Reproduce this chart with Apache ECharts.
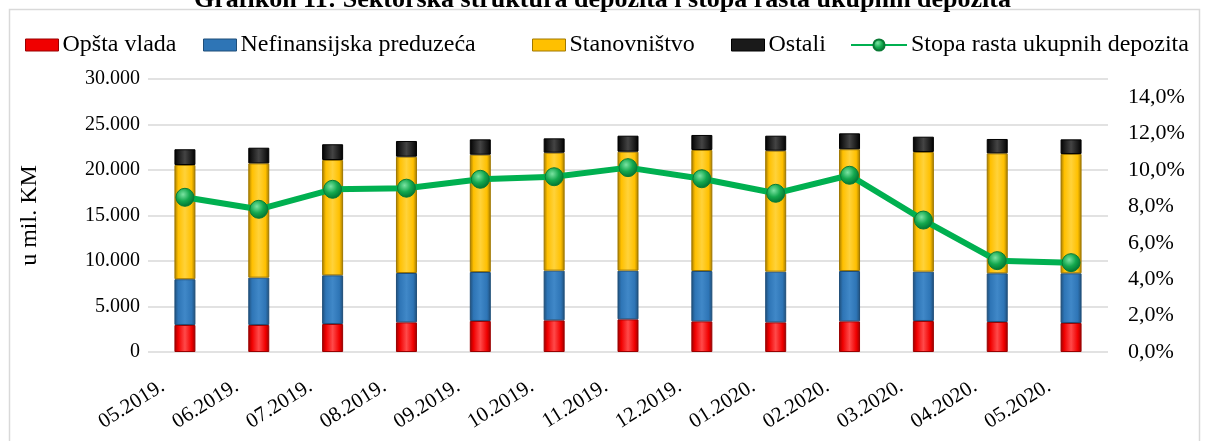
<!DOCTYPE html>
<html>
<head>
<meta charset="utf-8">
<script src="https://cdn.jsdelivr.net/npm/echarts@6/dist/echarts.min.js"></script>
<style>
html,body{margin:0;padding:0;background:#fff;}
#c{width:1205px;height:441px;}
</style>
</head>
<body>
<div id="c"></div>
<script>
const categories = ['05.2019.','06.2019.','07.2019.','08.2019.','09.2019.','10.2019.','11.2019.','12.2019.','01.2020.','02.2020.','03.2020.','04.2020.','05.2020.'];
const opstaVlada = [2970, 2970, 3080, 3260, 3410, 3480, 3590, 3370, 3260, 3370, 3410, 3300, 3190];
const nefinansijska = [5030, 5200, 5350, 5420, 5380, 5460, 5350, 5530, 5570, 5530, 5420, 5350, 5460];
const stanovnistvo = [12550, 12560, 12670, 12780, 12890, 12960, 13070, 13300, 13290, 13380, 13150, 13180, 13110];
const ostali = [1730, 1720, 1730, 1730, 1690, 1580, 1760, 1650, 1650, 1750, 1680, 1580, 1610];
const stopaRasta = [8.5, 7.84, 8.94, 9.0, 9.49, 9.63, 10.13, 9.52, 8.72, 9.71, 7.25, 5.02, 4.91];
const leftTicks = [0, 5000, 10000, 15000, 20000, 25000, 30000];
const rightTicks = [0, 2, 4, 6, 8, 10, 12, 14];
const seriesNames = ['Opšta vlada', 'Nefinansijska preduzeća', 'Stanovništvo', 'Ostali', 'Stopa rasta ukupnih depozita'];

const FONT = '"Liberation Serif", "DejaVu Serif", serif';
function shade(dark, base, light) {
  return new echarts.graphic.LinearGradient(0, 0, 1, 0, [
    {offset: 0, color: dark},
    {offset: 0.18, color: base},
    {offset: 0.5, color: light},
    {offset: 0.82, color: base},
    {offset: 1, color: dark}
  ]);
}
function barSeries(name, data, dark, base, light) {
  return {
    name: name, type: 'bar', stack: 'dep', data: data, barWidth: 21,
    itemStyle: {color: shade(dark, base, light), borderColor: dark, borderWidth: 1}
  };
}
const legendStyles = [
  {icon: 'rect', itemStyle: {color: '#f00000', borderColor: '#900', borderWidth: 1}},
  {icon: 'rect', itemStyle: {color: '#2e75b6', borderColor: '#1f4e79', borderWidth: 1}},
  {icon: 'rect', itemStyle: {color: '#ffc000', borderColor: '#a07800', borderWidth: 1}},
  {icon: 'rect', itemStyle: {color: '#1a1a1a', borderColor: '#000', borderWidth: 1}},
  {}
];
const legendLefts = [20, 198, 527, 726, 845];
const legends = seriesNames.map((n, i) => ({
  left: legendLefts[i], top: 28, itemGap: 0,
  itemWidth: i === 4 ? 56 : 33, itemHeight: i === 4 ? 14 : 12,
  textStyle: {fontFamily: FONT, fontSize: 24, color: '#000', padding: [0, 0, 0, -1]},
  data: [Object.assign({name: n}, legendStyles[i])]
}));

const chart = echarts.init(document.getElementById('c'));
const fmtThousands = v => String(v).replace(/\B(?=(\d{3})+(?!\d))/g, '.');
const option = {
  backgroundColor: '#fff',
  animation: false,
  title: {
    text: 'Grafikon 11: Sektorska struktura depozita i stopa rasta ukupnih depozita',
    left: 'center', top: -18,
    textStyle: {fontFamily: FONT, fontWeight: 'bold', fontSize: 26, color: '#000'}
  },
  graphic: [{
    type: 'rect', shape: {x: 9.5, y: 9.5, width: 1190, height: 440},
    style: {fill: 'none', stroke: '#d9d9d9', lineWidth: 1.5}, z: 0
  }],
  legend: legends,
  grid: {left: 148, right: 97, top: 79, bottom: 89},
  xAxis: {
    type: 'category', data: categories,
    axisLine: {show: false}, axisTick: {show: false},
    axisLabel: {rotate: 32, margin: 19, padding: [0, 26, 0, 0], fontFamily: FONT, fontSize: 21, color: '#000', interval: 0}
  },
  yAxis: [{
    type: 'value', min: leftTicks[0], max: leftTicks[leftTicks.length - 1], interval: leftTicks[1] - leftTicks[0],
    name: 'u mil. KM', nameLocation: 'middle', nameGap: 106, nameRotate: 90,
    nameTextStyle: {fontFamily: FONT, fontSize: 24, color: '#000'},
    axisLine: {show: false}, axisTick: {show: false},
    axisLabel: {fontFamily: FONT, fontSize: 20, color: '#000', margin: 8, formatter: fmtThousands},
    splitLine: {lineStyle: {color: '#d9d9d9', width: 1.5}}
  }, {
    type: 'value', min: rightTicks[0], max: 15, interval: rightTicks[1] - rightTicks[0],
    position: 'right',
    axisLine: {show: false}, axisTick: {show: false}, splitLine: {show: false},
    axisLabel: {fontFamily: FONT, fontSize: 22, color: '#000', margin: 20, showMaxLabel: false,
      formatter: v => (rightTicks.indexOf(v) >= 0 ? v.toFixed(1).replace('.', ',') + '%' : '')}
  }],
  series: [
    barSeries(seriesNames[0], opstaVlada, '#9a0000', '#f00000', '#ff4a4a'),
    barSeries(seriesNames[1], nefinansijska, '#1f4e79', '#2e75b6', '#4088c8'),
    barSeries(seriesNames[2], stanovnistvo, '#a07800', '#ffc000', '#ffd23a'),
    barSeries(seriesNames[3], ostali, '#000000', '#1a1a1a', '#444444'),
    {
      name: seriesNames[4], type: 'line', yAxisIndex: 1, data: stopaRasta,
      symbol: 'circle', symbolSize: 18,
      lineStyle: {color: '#00b050', width: 6},
      itemStyle: {
        color: new echarts.graphic.RadialGradient(0.4, 0.35, 0.7, [
          {offset: 0, color: '#7be3a2'}, {offset: 0.5, color: '#14a84e'}, {offset: 1, color: '#006b2c'}
        ]),
        borderColor: '#0a7a35', borderWidth: 1
      },
      z: 5
    }
  ]
};
chart.setOption(option);
</script>
</body>
</html>
